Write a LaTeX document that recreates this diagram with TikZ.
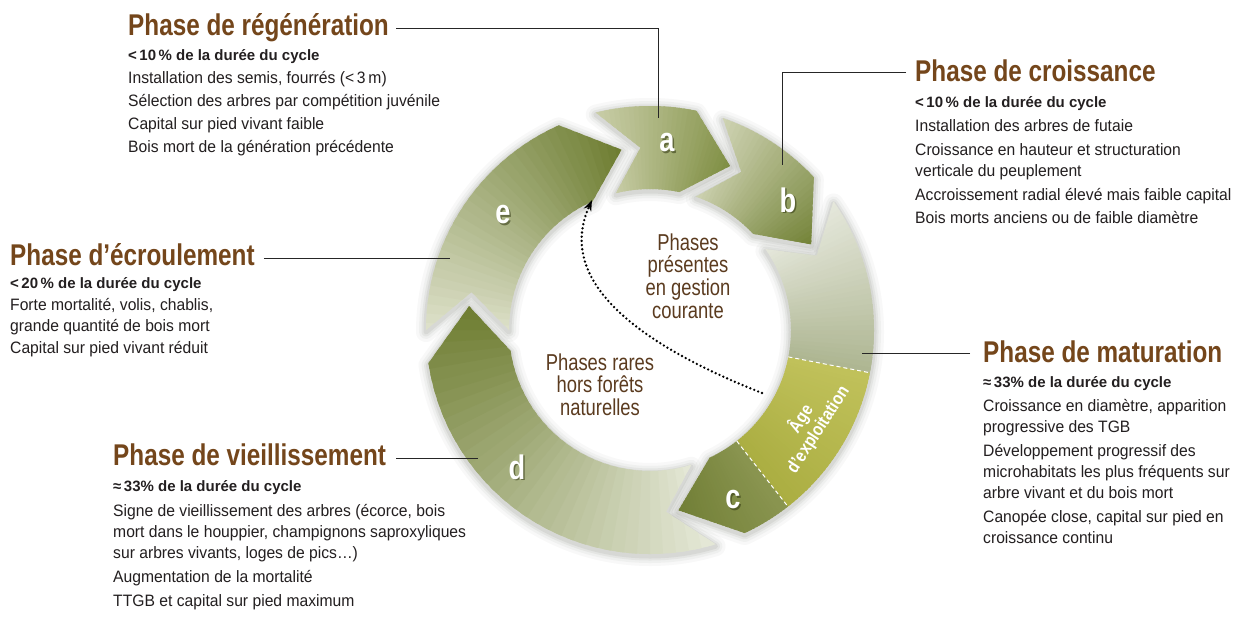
\documentclass[tikz,border=0pt]{standalone}
\usepackage{fontspec}
\setmainfont{Liberation Sans}[FakeStretch=0.95]
\newfontfamily\titlefont{Liberation Sans}[FakeStretch=0.81]
\newfontfamily\subfont{Liberation Sans}[FakeStretch=1.0]
\newfontfamily\centerfont{Liberation Sans}[FakeStretch=0.8]
\newfontfamily\letterfont{Liberation Sans}[FakeStretch=0.8]
\newfontfamily\agefont{Liberation Sans}[FakeStretch=0.85]
\usetikzlibrary{arrows.meta}

\definecolor{titlebrown}{HTML}{74461B}
\definecolor{centerbrown}{HTML}{5B3B1F}
\definecolor{bodyblack}{HTML}{231F20}
\definecolor{leadgray}{HTML}{262626}
\definecolor{shadowc}{HTML}{5A5F50}
\definecolor{aL}{HTML}{CDD1AD}\definecolor{aD}{HTML}{7A8A3C}
\definecolor{bL}{HTML}{D3D7B9}\definecolor{bD}{HTML}{6E7E30}
\definecolor{cL}{HTML}{E8EADF}\definecolor{cG}{HTML}{AEB692}
\definecolor{ageA}{HTML}{C0C15A}\definecolor{ageB}{HTML}{ABAE42}
\definecolor{cdA}{HTML}{8A9550}\definecolor{cdB}{HTML}{6E7C33}
\definecolor{dL}{HTML}{E6E9D9}\definecolor{dD}{HTML}{6C7B2E}
\definecolor{eL}{HTML}{DFE2CC}\definecolor{eD}{HTML}{6A7A2C}
\definecolor{lettershadow}{HTML}{2F3510}

\def\RO{224pt}
\def\RI{141pt}
\def\RM{182.5pt}

% #1 command, #2 tail, #3 notch, #4 head, #5 tip
\newcommand\chevpath[5]{#1 (#2:\RO) arc[start angle=#2, end angle=#4, radius=\RO] -- (#5:\RM) -- (#4:\RI) arc[start angle=#4, end angle=#2, radius=\RI] -- (#3:\RM) -- cycle;}

% angular gradient from angle #1 to #2, colour #3 to #4
\newcommand\gradwedge[4]{%
  \foreach \k in {0,...,35}{%
    \pgfmathsetmacro\aA{#1+((#2)-(#1))*\k/36}%
    \pgfmathsetmacro\aB{#1+((#2)-(#1))*(\k+1.6)/36}%
    \pgfmathtruncatemacro\pc{100*\k/35}%
    \fill[fill=#4!\pc!#3] (0,0) -- (\aA:250pt) arc[start angle=\aA, end angle=\aB, radius=250pt] -- cycle;
  }%
}

\newcommand\segshadow[4]{%
  \foreach \w/\o in {20/0.04,14/0.05,9/0.07,5/0.09}{%
    \chevpath{\draw[shadowc, line width=\w pt, opacity=\o, line join=round, yshift=-2pt]}{#1}{#2}{#3}{#4}%
  }%
}

\tikzset{
  ttl/.style={font=\titlefont\bfseries\fontsize{30}{34}\selectfont, text=titlebrown, anchor=base west, inner sep=0pt},
  sub/.style={font=\subfont\bfseries\fontsize{15}{18}\selectfont, text=bodyblack, anchor=base west, inner sep=0pt},
  body/.style={font=\fontsize{16.5}{19}\selectfont, text=bodyblack, anchor=base west, inner sep=0pt},
  ctext/.style={font=\centerfont\fontsize{23}{26}\selectfont, text=centerbrown, anchor=base, inner sep=0pt},
  segletter/.style={font=\letterfont\bfseries\fontsize{34}{38}\selectfont, text=white, inner sep=0pt},
  segletsh/.style={font=\letterfont\bfseries\fontsize{34}{38}\selectfont, text=lettershadow, text opacity=0.55, inner sep=0pt},
  agetext/.style={font=\agefont\bfseries\fontsize{18}{20}\selectfont, text=white, rotate=57, align=center, inner sep=0pt},
  leader/.style={draw=leadgray, line width=1pt},
  sepline/.style={draw=white, line width=1pt, dash pattern=on 4pt off 3pt},
  dotarrow/.style={draw=black, line width=2.6pt, line cap=round, dash pattern=on 0pt off 4.2pt, -{Stealth[length=11pt, width=8pt]}}
}

\begin{document}
\begin{tikzpicture}[x=1pt, y=1pt]
\useasboundingbox (0,0) rectangle (1242,-619);
\fill[white] (0,0) rectangle (1242,-619);

% ---------------- ring ----------------
\begin{scope}[shift={(650,-330)}]
  % shadows
  \segshadow{104}{93}{78}{64}
  \segshadow{71}{60}{43}{28}
  \segshadow{35}{24}{-65}{-81}
  \segshadow{-73}{-85}{-171.5}{-187.5}
  \segshadow{-180}{-192}{-246}{-261}
  % a
  \begin{scope}
    \chevpath{\clip}{104}{93}{78}{64}
    \gradwedge{107}{61}{aL}{aD}
  \end{scope}
  % b
  \begin{scope}
    \chevpath{\clip}{71}{60}{43}{28}
    \gradwedge{74}{25}{bL}{bD}
  \end{scope}
  % maturation / age / c
  \begin{scope}
    \chevpath{\clip}{35}{24}{-65}{-81}
    \gradwedge{38}{-11}{cL}{cG}
    \gradwedge{-11}{-52}{ageA}{ageB}
    \gradwedge{-52}{-85}{cdA}{cdB}
  \end{scope}
  \draw[sepline] (-11:\RI) -- (-11:\RO);
  \draw[sepline] (-52:\RI) -- (-52:\RO);
  % d
  \begin{scope}
    \chevpath{\clip}{-73}{-85}{-171.5}{-187.5}
    \gradwedge{-70}{-190}{dL}{dD}
  \end{scope}
  % e
  \begin{scope}
    \chevpath{\clip}{-180}{-192}{-246}{-261}
    \gradwedge{-177}{-264}{eL}{eD}
  \end{scope}
\end{scope}

% letters
\node[segletsh] (las) at (668.5,-144.5) {a};
\node[segletter] (la) at (667,-143) {a};
\node[segletsh] (lbs) at (789.5,-201.5) {b};
\node[segletter] (lb) at (788,-200) {b};
\node[segletsh] (lcs) at (734.5,-501.5) {c};
\node[segletter] (lc) at (733,-500) {c};
\node[segletsh] (lds) at (518.5,-468.5) {d};
\node[segletter] (ld) at (517,-467) {d};
\node[segletsh] (les) at (504.5,-216.5) {e};
\node[segletter] (le) at (503,-215) {e};

% age d'exploitation
\node[agetext] (age) at (809,-424) {Âge\\d’exploitation};

% centre texts
\node[ctext] (p1) at (688,-250) {Phases};
\node[ctext] (p2) at (688,-272) {présentes};
\node[ctext] (p3) at (688,-295) {en gestion};
\node[ctext] (p4) at (688,-318) {courante};
\node[ctext] (q1) at (600,-370) {Phases rares};
\node[ctext] (q2) at (600,-392) {hors forêts};
\node[ctext] (q3) at (600,-415) {naturelles};

% dotted arrow
\coordinate (dotS) at (762,-393);
\coordinate (dotE) at (592,-200);
\draw[dotarrow] (dotS) .. controls (640,-345) and (555,-282) .. (dotE);

% ---------------- texts ----------------
% regeneration
\node[ttl] (tR) at (128,-35) {Phase de régénération};
\node[sub] (sR) at (128,-60) {<\,10\,\% de la durée du cycle};
\node[body] (r1) at (128,-83) {Installation des semis, fourrés (<\,3\,m)};
\node[body] (r2) at (128,-106) {Sélection des arbres par compétition juvénile};
\node[body] (r3) at (128,-129) {Capital sur pied vivant faible};
\node[body] (r4) at (128,-152) {Bois mort de la génération précédente};

% croissance
\node[ttl] (tC) at (915,-81) {Phase de croissance};
\node[sub] (sC) at (915,-107) {<\,10\,\% de la durée du cycle};
\node[body] (c1) at (915,-131) {Installation des arbres de futaie};
\node[body] (c2) at (915,-155) {Croissance en hauteur et structuration};
\node[body] (c3) at (915,-176) {verticale du peuplement};
\node[body] (c4) at (915,-200) {Accroissement radial élevé mais faible capital};
\node[body] (c5) at (915,-223) {Bois morts anciens ou de faible diamètre};

% ecroulement
\node[ttl] (tE) at (10,-265) {Phase d’écroulement};
\node[sub] (sE) at (10,-288) {<\,20\,\% de la durée du cycle};
\node[body] (e1) at (10,-310) {Forte mortalité, volis, chablis,};
\node[body] (e2) at (10,-331) {grande quantité de bois mort};
\node[body] (e3) at (10,-353) {Capital sur pied vivant réduit};

% maturation
\node[ttl] (tM) at (983,-362) {Phase de maturation};
\node[sub] (sM) at (983,-387) {≈\,33\% de la durée du cycle};
\node[body] (m1) at (983,-411) {Croissance en diamètre, apparition};
\node[body] (m2) at (983,-432) {progressive des TGB};
\node[body] (m3) at (983,-456) {Développement progressif des};
\node[body] (m4) at (983,-477) {microhabitats les plus fréquents sur};
\node[body] (m5) at (983,-498) {arbre vivant et du bois mort};
\node[body] (m6) at (983,-522) {Canopée close, capital sur pied en};
\node[body] (m7) at (983,-543) {croissance continu};

% vieillissement
\node[ttl] (tV) at (113,-465) {Phase de vieillissement};
\node[sub] (sV) at (113,-491) {≈\,33\% de la durée du cycle};
\node[body] (v1) at (113,-516) {Signe de vieillissement des arbres (écorce, bois};
\node[body] (v2) at (113,-537) {mort dans le houppier, champignons saproxyliques};
\node[body] (v3) at (113,-558) {sur arbres vivants, loges de pics…)};
\node[body] (v4) at (113,-582) {Augmentation de la mortalité};
\node[body] (v5) at (113,-606) {TTGB et capital sur pied maximum};

% ---------------- leaders ----------------
\coordinate (pa) at (658,-118);
\coordinate (paTop) at (658,-28);
\coordinate (rE) at ([xshift=7pt]tR.base east);
\draw[leader] (rE |- paTop) -- (paTop) -- (pa);

\coordinate (pb) at (782,-165);
\coordinate (pbTop) at (782,-72);
\coordinate (cW) at ([xshift=-9pt]tC.base west);
\draw[leader] (cW |- pbTop) -- (pbTop) -- (pb);

\coordinate (pe) at (450,-258);
\coordinate (eE) at ([xshift=9pt]tE.base east);
\draw[leader] (eE |- pe) -- (pe);

\coordinate (pm) at (862,-353);
\coordinate (mW) at ([xshift=-13pt]tM.base west);
\draw[leader] (mW |- pm) -- (pm);

\coordinate (pd) at (478,-458);
\coordinate (vE) at ([xshift=10pt]tV.base east);
\draw[leader] (vE |- pd) -- (pd);
\end{tikzpicture}
\end{document}
